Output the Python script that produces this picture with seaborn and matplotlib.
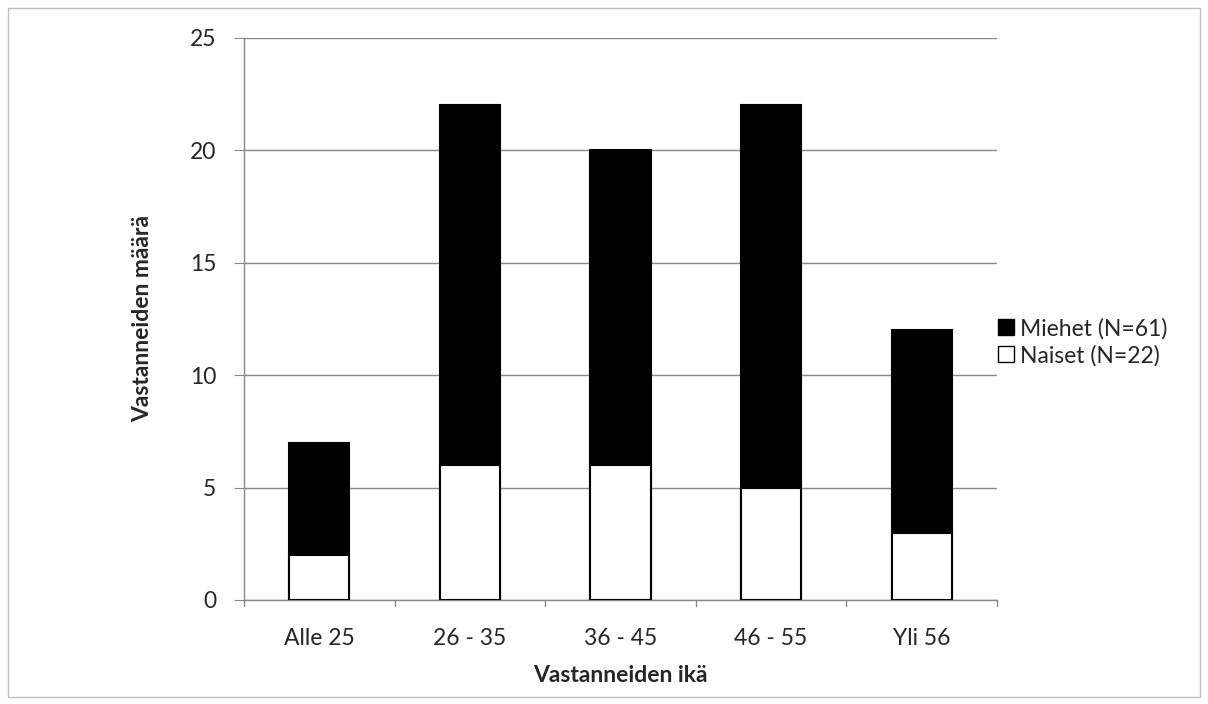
import matplotlib
matplotlib.use("Agg")
import matplotlib.pyplot as plt
from matplotlib.patches import Patch, Rectangle
import seaborn as sns
import pandas as pd

# ── Data ─────────────────────────────────────────────────────────────────────
age_groups = ["Alle 25", "26 - 35", "36 - 45", "46 - 55", "Yli 56"]
miehet = [5, 16, 14, 17, 9]
naiset = [2, 6, 6, 5, 3]
yticks = [0, 5, 10, 15, 20, 25]

df = pd.DataFrame({"ika": age_groups, "miehet": miehet, "naiset": naiset})
df["total"] = df["miehet"] + df["naiset"]

sns.set_style("white")
plt.rcParams["font.family"] = ["Lato", "DejaVu Sans"]

fig = plt.figure(figsize=(12.08, 7.04), dpi=100)
ax = fig.add_axes([244 / 1208, 1 - 600 / 704, (997 - 244) / 1208, (600 - 38) / 704])

# Stacked bars: total in black, women overlaid in white
sns.barplot(data=df, x="ika", y="total", color="black", width=0.4,
            edgecolor="black", linewidth=1.5, saturation=1, ax=ax, zorder=3)
sns.barplot(data=df, x="ika", y="naiset", color="white", width=0.4,
            edgecolor="black", linewidth=1.5, saturation=1, ax=ax, zorder=4)

ax.set_xlim(-0.5, len(age_groups) - 0.5)
ax.set_ylim(0, 25)
ax.set_yticks(yticks)
ax.yaxis.grid(True, color="#888888", lw=1)
ax.set_axisbelow(True)

for s in ["top", "right"]:
    ax.spines[s].set_visible(False)
for s in ["left", "bottom"]:
    ax.spines[s].set_color("#888888")
    ax.spines[s].set_linewidth(1)

ax.tick_params(axis="y", left=True, length=7, color="#888888", labelsize=16.5, pad=13)
ax.set_xticks(range(len(age_groups)))
ax.set_xticklabels(age_groups)
ax.tick_params(axis="x", bottom=False, labelsize=16.5, pad=17)
# ticks between categories
for xb in [i - 0.5 for i in range(len(age_groups) + 1)]:
    ax.plot([xb, xb], [0, -0.25], color="#888888", lw=1, clip_on=False,
            transform=ax.transData)

ax.set_xlabel("Vastanneiden ikä", fontsize=16.5, fontweight="bold", labelpad=11)
ax.set_ylabel("Vastanneiden määrä", fontsize=16.5, fontweight="bold", labelpad=26)

handles = [Patch(facecolor="black", edgecolor="black", label="Miehet (N=61)"),
           Patch(facecolor="white", edgecolor="black", label="Naiset (N=22)")]
fig.legend(handles=handles, loc="center left", bbox_to_anchor=(998 / 1208, 1 - 342 / 704),
           frameon=False, fontsize=16.5, handlelength=0.7, handleheight=0.7,
           handletextpad=0.25, labelspacing=0.25, borderaxespad=0, borderpad=0)

# outer chart border
fig.patches.append(Rectangle((8 / 1208, 7 / 704), 1192 / 1208, 689 / 704,
                             transform=fig.transFigure, fill=False,
                             edgecolor="#bfbfbf", lw=1))

fig.savefig("out.png", dpi=100)
